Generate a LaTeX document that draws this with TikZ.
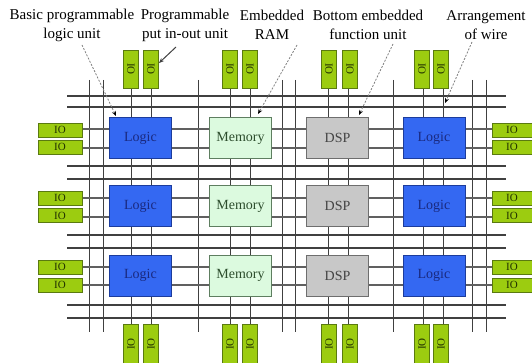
\documentclass[tikz,border=0pt]{standalone}
\usepackage{fontspec}
\setmainfont{Liberation Serif}
\usetikzlibrary{arrows.meta}
\definecolor{logicblue}{HTML}{3468F2}
\definecolor{logicedge}{HTML}{1C3C9C}
\definecolor{logictext}{HTML}{1A2A80}
\definecolor{memfill}{HTML}{DCFADF}
\definecolor{memedge}{HTML}{5E7E60}
\definecolor{memtext}{HTML}{2D4D2D}
\definecolor{dspfill}{HTML}{C8C8C8}
\definecolor{dspedge}{HTML}{6E6E6E}
\definecolor{dsptext}{HTML}{444444}
\definecolor{iogreen}{HTML}{9CCC10}
\definecolor{ioedge}{HTML}{5A7A10}
\definecolor{iotext}{HTML}{203000}
\definecolor{gridcol}{HTML}{404040}
\definecolor{rowcol}{HTML}{606060}
\tikzset{
  unitbox/.style={minimum width=62pt, minimum height=41pt, inner sep=0pt, line width=0.8pt,
    font=\fontsize{14}{16}\selectfont},
  logicbox/.style={unitbox, fill=logicblue, draw=logicedge, text=logictext},
  membox/.style={unitbox, fill=memfill, draw=memedge, text=memtext},
  dspbox/.style={unitbox, fill=dspfill, draw=dspedge, text=dsptext},
  iobase/.style={fill=iogreen, draw=ioedge, line width=0.6pt, inner sep=0pt, text=iotext,
    font=\fontsize{11}{12}\selectfont},
  ioh/.style={iobase, minimum width=44pt, minimum height=14pt},
  iov/.style={iobase, minimum width=38pt, minimum height=15pt},
  iovb/.style={iobase, minimum width=40pt, minimum height=15pt},
  gridv/.style={draw=gridcol, line width=0.8pt},
  rowline/.style={draw=rowcol, line width=1.2pt},
  lbl/.style={align=center, font=\fontsize{15}{19}\selectfont, inner sep=0pt},
  pointer/.style={draw=gray, line width=0.8pt, dash pattern=on 2pt off 1.5pt,
    -{Stealth[length=5pt,width=4pt,black]}},
  solidpointer/.style={draw=darkgray, line width=1pt, -{Stealth[length=5pt,width=4pt,darkgray]}}
}
\begin{document}
\begin{tikzpicture}[x=1pt,y=-1pt]
\useasboundingbox[fill=white] (0,0) rectangle (532,363);
% vertical routing lines
\foreach \x in {89,103,198,282,295,393,472,486}
  \draw[gridv] (\x,80) -- (\x,332);
\foreach \x in {131,151,230,250,328,348,423,443}
  \draw[gridv] (\x,88) -- (\x,324);
% horizontal routing lines
\foreach \y/\w in {96/1.2,107/1.2,166/1.5,179/1.1,235/1.1,248/1.1,305/1.1,318/2.2}
  \draw[draw=gridcol, line width=\w pt] (67,\y) -- (506,\y);
\foreach \y in {129,148,198,217,267,285}
  \draw[rowline] (82,\y) -- (492,\y);
% units
\node[logicbox] (L1) at (140.5,138) {Logic};
\node[membox]   (M1) at (240.5,138) {Memory};
\node[dspbox]   (D1) at (337.5,138) {DSP};
\node[logicbox] (R1) at (434,138) {Logic};
\node[logicbox] (L2) at (140.5,206) {Logic};
\node[membox]   (M2) at (240.5,206) {Memory};
\node[dspbox]   (D2) at (337.5,206) {DSP};
\node[logicbox] (R2) at (434,206) {Logic};
\node[logicbox] (L3) at (140.5,275.5) {Logic};
\node[membox]   (M3) at (240.5,275.5) {Memory};
\node[dspbox]   (D3) at (337.5,275.5) {DSP};
\node[logicbox] (R3) at (434,275.5) {Logic};
% left and right IO
\foreach \y/\n in {130/a,147/b,198/c,215.5/d,267/e,285/f}{
  \node[ioh] (lio\n) at (60,\y) {IO};
  \node[ioh, minimum width=40pt] (rio\n) at (512,\y) {IO};
}
% top and bottom IO
\foreach \x/\n in {131/a,151/b,230/c,250/d,329/e,350/f,422/g,441/h}{
  \node[iov, rotate=-90] (tio\n) at (\x,69) {IO};
  \node[iovb, rotate=90] (bio\n) at (\x,344) {IO};
}
% labels
\node[lbl] (t1) at (72,25) {Basic programmable\\logic unit};
\node[lbl] (t2) at (185,25) {Programmable\\put in-out unit};
\node[lbl] (t3) at (272,25) {Embedded\\RAM};
\node[lbl] (t4) at (368,25) {Bottom embedded\\function unit};
\node[lbl] (t5) at (486,25) {Arrangement\\of wire};
% pointers
\coordinate (p1s) at (82,45);  \coordinate (p1e) at (116,116);
\coordinate (p2s) at (176,47); \coordinate (p2e) at (159,63);
\coordinate (p3s) at (297,45); \coordinate (p3e) at (258,114);
\coordinate (p4s) at (393,44); \coordinate (p4e) at (359,115);
\coordinate (p5s) at (472,42); \coordinate (p5e) at (445,103);
\draw[pointer] (p1s) -- (p1e);
\draw[solidpointer] (p2s) -- (p2e);
\draw[pointer] (p3s) -- (p3e);
\draw[pointer] (p4s) -- (p4e);
\draw[pointer] (p5s) -- (p5e);
\end{tikzpicture}
\end{document}
